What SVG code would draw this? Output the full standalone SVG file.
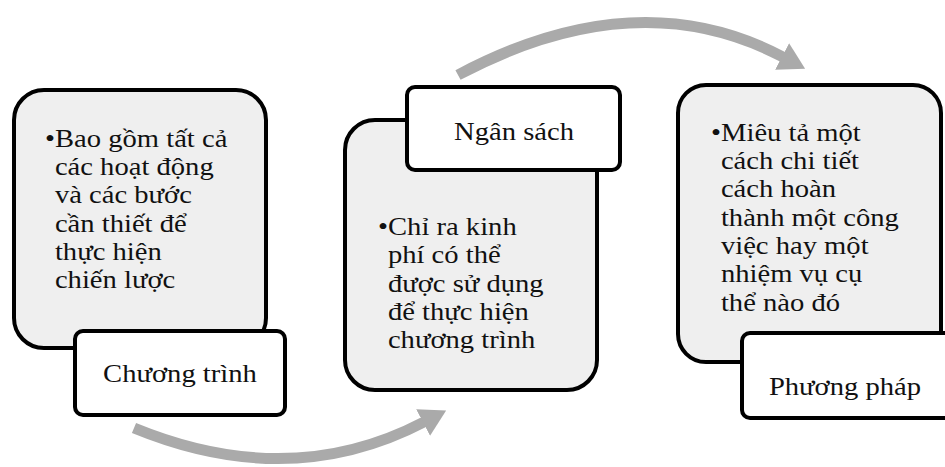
<svg xmlns="http://www.w3.org/2000/svg" width="945" height="467" viewBox="0 0 945 467">
<style>
.card{fill:#efefef;stroke:#000;stroke-width:4}
.lbl{fill:#fff;stroke:#000;stroke-width:4}
text{font-family:"Liberation Serif","Times New Roman",serif;font-size:26px;fill:#111}
.arc{fill:none;stroke:#aaaaaa;stroke-width:11}
</style>
<defs>
<marker id="ah" markerUnits="userSpaceOnUse" viewBox="0 0 26 30" refX="1" refY="15" markerWidth="26" markerHeight="30" orient="auto">
<path d="M0,0 L26,15 L0,30 z" fill="#aaaaaa"/>
</marker>
</defs>
<g id="connectors">
<path class="arc" d="M458,75 Q637,-20 783,57" marker-end="url(#ah)"/>
<path class="arc" d="M134,428 Q290,492 424,422" marker-end="url(#ah)"/>
</g>
<g id="chuong-trinh">
<rect class="card" x="14" y="90" width="252" height="258" rx="30"/>
<g transform="translate(45 0) scale(1.1 1)">
<text x="0" y="147">•Bao gồm tất cả</text>
<text x="9" y="175">các hoạt động</text>
<text x="9" y="203">và các bước</text>
<text x="9" y="232">cần thiết để</text>
<text x="9" y="260">thực hiện</text>
<text x="9" y="288">chiến lược</text>
</g>
<rect class="lbl" x="75" y="331" width="210" height="84" rx="8"/>
<text transform="translate(180 382) scale(1.1 1)" text-anchor="middle">Chương trình</text>
</g>
<g id="ngan-sach">
<rect class="card" x="345" y="120" width="252" height="270" rx="30"/>
<g transform="translate(378 0) scale(1.1 1)">
<text x="0" y="235">•Chỉ ra kinh</text>
<text x="9" y="263">phí có thể</text>
<text x="9" y="292">được sử dụng</text>
<text x="9" y="320">để thực hiện</text>
<text x="9" y="348">chương trình</text>
</g>
<rect class="lbl" x="407" y="87" width="213" height="83" rx="8"/>
<text transform="translate(514 140) scale(1.1 1)" text-anchor="middle">Ngân sách</text>
</g>
<g id="phuong-phap">
<rect class="card" x="678" y="85" width="263" height="277" rx="28"/>
<g transform="translate(711 0) scale(1.1 1)">
<text x="0" y="141">•Miêu tả một</text>
<text x="9" y="169">cách chi tiết</text>
<text x="9" y="197">cách hoàn</text>
<text x="9" y="226">thành một công</text>
<text x="9" y="254">việc hay một</text>
<text x="9" y="282">nhiệm vụ cụ</text>
<text x="9" y="311">thể nào đó</text>
</g>
<rect class="lbl" x="742" y="333" width="230" height="85" rx="8"/>
<text transform="translate(845 395) scale(1.1 1)" text-anchor="middle">Phương pháp</text>
</g>
</svg>
